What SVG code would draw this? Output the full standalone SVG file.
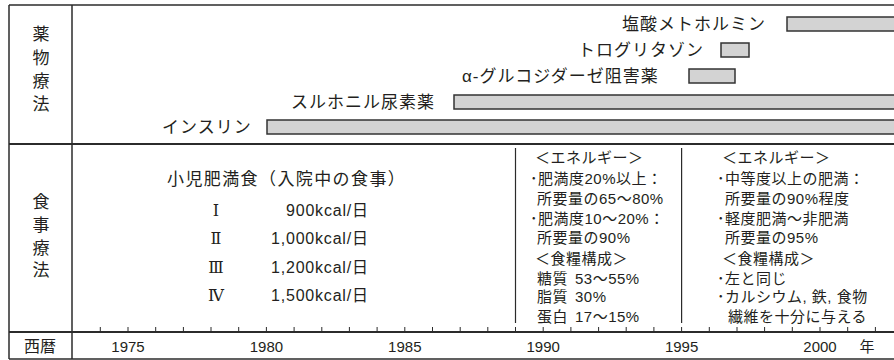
<svg xmlns="http://www.w3.org/2000/svg" width="894" height="360" viewBox="0 0 894 360">
<style>
text{font-family:'Liberation Sans','Noto Sans CJK JP',sans-serif;fill:#231f20}
.lbl{font-size:17px;letter-spacing:1px}
.col{font-size:17px;text-anchor:middle}
.t15{font-size:15px;letter-spacing:0.5px}
.yr{font-size:15px;text-anchor:middle}
.kc{font-size:16px;letter-spacing:0.8px}
.rn{font-family:'DejaVu Serif','Liberation Serif','Noto Sans CJK JP',serif;font-size:16px;text-anchor:middle}
.bar{fill:#d3d3d3;stroke:#333;stroke-width:1.5}
.ln{stroke:#2b2b2b;fill:none}
</style>
<rect width="894" height="360" fill="#fff"/>
<g id="frame">
<line class="ln" x1="9" y1="5" x2="894" y2="5" stroke-width="1.5"/>
<line class="ln" x1="9" y1="5" x2="9" y2="359" stroke-width="1.5"/>
<line class="ln" x1="72" y1="5" x2="72" y2="359" stroke-width="1.5"/>
<line class="ln" x1="9" y1="144" x2="894" y2="144" stroke-width="2.2"/>
<line class="ln" x1="9" y1="332" x2="894" y2="332" stroke-width="2.2"/>
<line class="ln" x1="9" y1="359" x2="894" y2="359" stroke-width="1.5"/>
<line class="ln" x1="515.5" y1="148" x2="515.5" y2="323" stroke-width="1.2"/>
<line class="ln" x1="681.6" y1="148" x2="681.6" y2="323" stroke-width="1.2"/>
</g>
<g id="row-labels">
<text class="col" x="41" y="40">薬</text>
<text class="col" x="41" y="64">物</text>
<text class="col" x="41" y="87">療</text>
<text class="col" x="41" y="110">法</text>
<text class="col" x="41" y="208">食</text>
<text class="col" x="41" y="231">事</text>
<text class="col" x="41" y="254">療</text>
<text class="col" x="41" y="276">法</text>
<text class="col" x="40" y="352" style="font-size:16px">西暦</text>
</g>
<g id="drug-metformin">
<text class="lbl" x="622" y="30">塩酸メトホルミン</text>
<rect class="bar" x="787" y="17" width="120" height="14"/>
</g>
<g id="drug-troglitazone">
<text class="lbl" x="578" y="56">トログリタゾン</text>
<rect class="bar" x="721" y="43" width="28" height="14"/>
</g>
<g id="drug-agi">
<text class="lbl" x="462" y="82">α-グルコジダーゼ阻害薬</text>
<rect class="bar" x="689" y="69" width="46" height="14"/>
</g>
<g id="drug-su">
<text class="lbl" x="291" y="107.5">スルホニル尿素薬</text>
<rect class="bar" x="454" y="95" width="450" height="14"/>
</g>
<g id="drug-insulin">
<text class="lbl" x="162" y="133">インスリン</text>
<rect class="bar" x="267" y="120" width="640" height="14"/>
</g>
<g id="diet-child">
<text x="167" y="185" style="font-size:17px;letter-spacing:1.4px">小児肥満食（入院中の食事）</text>
<text class="rn" x="216" y="216">Ⅰ</text>
<text class="rn" x="216" y="244">Ⅱ</text>
<text class="rn" x="216" y="273">Ⅲ</text>
<text class="rn" x="216" y="301">Ⅳ</text>
<text class="kc" x="286" y="216">900kcal/日</text>
<text class="kc" x="271" y="244">1,000kcal/日</text>
<text class="kc" x="271" y="273">1,200kcal/日</text>
<text class="kc" x="271" y="301">1,500kcal/日</text>
</g>
<g id="diet-1989">
<text class="t15" x="535" y="163">＜エネルギー＞</text>
<text class="t15" x="530" y="184">･肥満度20%以上：</text>
<text class="t15" x="537" y="204">所要量の65〜80%</text>
<text class="t15" x="530" y="224">･肥満度10〜20%：</text>
<text class="t15" x="537" y="243">所要量の90%</text>
<text class="t15" x="535" y="264">＜食糧構成＞</text>
<text class="t15" x="537" y="284">糖質</text><text class="t15" x="575" y="284">53〜55%</text>
<text class="t15" x="537" y="302">脂質</text><text class="t15" x="575" y="302">30%</text>
<text class="t15" x="537" y="322">蛋白</text><text class="t15" x="575" y="322">17〜15%</text>
</g>
<g id="diet-1995">
<text class="t15" x="722" y="163">＜エネルギー＞</text>
<text class="t15" x="717" y="184">･中等度以上の肥満：</text>
<text class="t15" x="725" y="204">所要量の90%程度</text>
<text class="t15" x="717" y="224">･軽度肥満〜非肥満</text>
<text class="t15" x="725" y="243">所要量の95%</text>
<text class="t15" x="722" y="264">＜食糧構成＞</text>
<text class="t15" x="717" y="284">･左と同じ</text>
<text class="t15" x="717" y="302">･カルシウム, 鉄, 食物</text>
<text class="t15" x="728" y="322">繊維を十分に与える</text>
</g>
<g id="axis">
<path class="ln" stroke-width="1" d="M100.3 327V332M128 327V332M155.7 327V332M183.4 327V332M211 327V332M238.7 327V332M266.4 327V332M294.1 327V332M321.8 327V332M349.4 327V332M377.1 327V332M404.8 327V332M432.5 327V332M460.2 327V332M487.8 327V332M515.5 327V332M543.2 327V332M570.9 327V332M598.6 327V332M626.2 327V332M653.9 327V332M681.6 327V332M709.3 327V332M737 327V332M764.6 327V332M792.3 327V332M820 327V332M847.7 327V332M875.4 327V332"/>
<text class="yr" x="128" y="351.5">1975</text>
<text class="yr" x="266.4" y="351.5">1980</text>
<text class="yr" x="404.8" y="351.5">1985</text>
<text class="yr" x="543.2" y="351.5">1990</text>
<text class="yr" x="681.6" y="351.5">1995</text>
<text class="yr" x="820" y="351.5">2000</text>
<text class="yr" x="867" y="351.5">年</text>
</g>
</svg>
